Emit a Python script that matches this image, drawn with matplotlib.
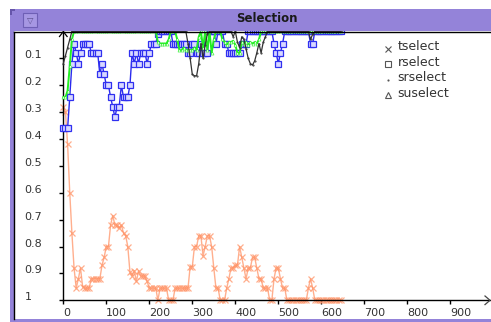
import matplotlib
matplotlib.use("Agg")
import matplotlib.pyplot as plt
from matplotlib.patches import Rectangle
from matplotlib.lines import Line2D

# ---------------- data ----------------
steps = list(range(0, 650, 5))

tselect = [
    0.28, 0.30, 0.42, 0.60, 0.75, 0.88, 0.955, 0.92, 0.88, 0.95,
    0.955, 0.955, 0.955, 0.92, 0.92, 0.92, 0.92, 0.92, 0.87, 0.84,
    0.80, 0.80, 0.72, 0.685, 0.72, 0.72, 0.73, 0.72, 0.75, 0.76,
    0.80, 0.895, 0.91, 0.89, 0.93, 0.89, 0.91, 0.91, 0.91, 0.93,
    0.955, 0.955, 0.955, 0.955, 1.0, 0.955, 0.955, 0.955, 0.955, 1.0,
    1.0, 1.0, 0.955, 0.955, 0.955, 0.955, 0.955, 0.955, 0.955, 0.875,
    0.875, 0.80, 0.80, 0.76, 0.76, 0.835, 0.80, 0.76, 0.76, 0.80,
    0.88, 0.955, 0.955, 1.0, 1.0, 1.0, 0.955, 0.92, 0.88, 0.88,
    0.87, 0.87, 0.80, 0.84, 0.88, 0.92, 0.88, 0.88, 0.84, 0.84,
    0.88, 0.92, 0.92, 0.955, 0.955, 0.955, 1.0, 1.0, 0.92, 0.88,
    0.88, 0.92, 0.955, 0.955, 1.0, 1.0, 1.0, 1.0, 1.0, 1.0,
    1.0, 1.0, 1.0, 1.0, 0.955, 0.92, 0.955, 1.0, 1.0, 1.0,
    1.0, 1.0, 1.0, 1.0, 1.0, 1.0, 1.0, 1.0, 1.0, 1.0,
]

rselect = [
    0.36, 0.36, 0.36, 0.245, 0.12, 0.045, 0.08, 0.12, 0.08, 0.045,
    0.045, 0.045, 0.045, 0.08, 0.08, 0.08, 0.08, 0.16, 0.12, 0.16,
    0.20, 0.20, 0.245, 0.28, 0.32, 0.28, 0.28, 0.20, 0.245, 0.245,
    0.245, 0.20, 0.08, 0.12, 0.08, 0.12, 0.08, 0.08, 0.08, 0.12,
    0.08, 0.045, 0.045, 0.045, 0.01, 0.0, 0.0, 0.0, 0.0, 0.0,
    0.0, 0.045, 0.045, 0.045, 0.045, 0.045, 0.045, 0.045, 0.08, 0.08,
    0.045, 0.045, 0.08, 0.08, 0.045, 0.08, 0.08, 0.08, 0.0, 0.0,
    0.0, 0.045, 0.0, 0.0, 0.0, 0.045, 0.045, 0.08, 0.08, 0.08,
    0.08, 0.08, 0.08, 0.045, 0.045, 0.045, 0.0, 0.0, 0.0, 0.0,
    0.0, 0.0, 0.0, 0.0, 0.0, 0.0, 0.0, 0.0, 0.045, 0.08,
    0.12, 0.08, 0.045, 0.0, 0.0, 0.0, 0.0, 0.0, 0.0, 0.0,
    0.0, 0.0, 0.0, 0.0, 0.0, 0.045, 0.045, 0.0, 0.0, 0.0,
    0.0, 0.0, 0.0, 0.0, 0.0, 0.0, 0.0, 0.0, 0.0, 0.0,
]

srselect = [
    0.12, 0.09, 0.06, 0.03, 0.0, 0.0, 0.0, 0.0, 0.0, 0.0,
    0.0, 0.0, 0.0, 0.0, 0.0, 0.0, 0.0, 0.0, 0.0, 0.0,
    0.0, 0.0, 0.0, 0.0, 0.0, 0.0, 0.0, 0.0, 0.0, 0.0,
    0.0, 0.0, 0.0, 0.0, 0.0, 0.0, 0.0, 0.0, 0.0, 0.0,
    0.0, 0.0, 0.0, 0.0, 0.0, 0.0, 0.0, 0.0, 0.0, 0.0,
    0.0, 0.0, 0.0, 0.0, 0.0, 0.0, 0.0, 0.0, 0.045, 0.10,
    0.16, 0.165, 0.165, 0.12, 0.045, 0.10, 0.05, 0.01, 0.0, 0.0,
    0.0, 0.0, 0.0, 0.0, 0.0, 0.0, 0.0, 0.0, 0.0, 0.02,
    0.0, 0.04, 0.06, 0.02, 0.03, 0.065, 0.10, 0.12, 0.125, 0.11,
    0.08, 0.045, 0.08, 0.04, 0.02, 0.0, 0.0, 0.0, 0.0, 0.0,
    0.0, 0.0, 0.0, 0.0, 0.0, 0.0, 0.0, 0.0, 0.0, 0.0,
    0.0, 0.0, 0.0, 0.0, 0.0, 0.03, 0.01, 0.0, 0.0, 0.0,
    0.0, 0.0, 0.0, 0.0, 0.0, 0.0, 0.0, 0.0, 0.0, 0.0,
]

suselect = [
    0.245, 0.245, 0.22, 0.13, 0.03, 0.0, 0.0, 0.0, 0.0, 0.0,
    0.0, 0.0, 0.0, 0.0, 0.0, 0.0, 0.0, 0.0, 0.0, 0.0,
    0.0, 0.0, 0.0, 0.0, 0.0, 0.0, 0.0, 0.0, 0.0, 0.0,
    0.0, 0.0, 0.0, 0.0, 0.0, 0.0, 0.0, 0.0, 0.0, 0.0,
    0.0, 0.0, 0.0, 0.0, 0.04, 0.045, 0.045, 0.045, 0.045, 0.03,
    0.0, 0.0, 0.0, 0.03, 0.07, 0.07, 0.06, 0.07, 0.07, 0.07,
    0.07, 0.06, 0.07, 0.02, 0.0, 0.06, 0.0, 0.07, 0.0, 0.08,
    0.03, 0.0, 0.0, 0.0, 0.03, 0.04, 0.05, 0.04, 0.04, 0.035,
    0.05, 0.08, 0.08, 0.04, 0.045, 0.04, 0.05, 0.04, 0.045, 0.04,
    0.045, 0.03, 0.0, 0.0, 0.0, 0.0, 0.0, 0.0, 0.0, 0.0,
    0.0, 0.0, 0.0, 0.0, 0.0, 0.0, 0.0, 0.0, 0.0, 0.0,
    0.0, 0.0, 0.0, 0.0, 0.0, 0.0, 0.0, 0.0, 0.0, 0.0,
    0.0, 0.0, 0.0, 0.0, 0.0, 0.0, 0.0, 0.0, 0.0, 0.0,
]

y_ticks = [0.1, 0.2, 0.3, 0.4, 0.5, 0.6, 0.7, 0.8, 0.9, 1.0]
y_tick_labels = ["0.1", "0.2", "0.3", "0.4", "0.5", "0.6", "0.7", "0.8", "0.9", "1"]
x_ticks = [0, 100, 200, 300, 400, 500, 600, 700, 800, 900]
x_tick_labels = ["0", "100", "200", "300", "400", "500", "600", "700", "800", "900"]
legend_names = ["tselect", "rselect", "srselect", "suselect"]
title = "Selection"

# ---------------- figure ----------------
W, H = 491, 322
fig = plt.figure(figsize=(W / 100, H / 100), dpi=100, facecolor="white")


def fx(px):
    return px / W


def fy(py):
    return 1 - py / H


purple = "#9483D9"
dark_purple = "#6655AA"

# window chrome
fig.patches.append(Rectangle((fx(10), fy(31)), fx(481), 22 / H, transform=fig.transFigure,
                             facecolor=purple, edgecolor="none", zorder=0))
fig.patches.append(Rectangle((fx(10), fy(322)), fx(3.5), 291 / H, transform=fig.transFigure,
                             facecolor=purple, edgecolor="none", zorder=0))
fig.patches.append(Rectangle((fx(10), fy(322)), fx(481), 3 / H, transform=fig.transFigure,
                             facecolor=purple, edgecolor="none", zorder=0))
fig.patches.append(Rectangle((fx(9.5), fy(15)), fx(2.5), 6 / H, transform=fig.transFigure,
                             facecolor=dark_purple, edgecolor="none", zorder=1))
fig.patches.append(Rectangle((fx(9.5), fy(11)), fx(5), 2 / H, transform=fig.transFigure,
                             facecolor=dark_purple, edgecolor="none", zorder=1))
fig.patches.append(Rectangle((fx(22.5), fy(27)), fx(14.5), 14.5 / H, transform=fig.transFigure,
                             facecolor="#A697E3", edgecolor="#6E5FB5", lw=0.8, zorder=1))
fig.text(fx(29.8), fy(19.8), "\u25bd", ha="center", va="center", fontsize=6,
         color="#5A4E8C", family="DejaVu Sans")
fig.text(fx(267), fy(18.5), title, ha="center", va="center", fontsize=8.5,
         fontweight="bold", color="#1a1a1a", family="DejaVu Sans")
fig.lines.append(Line2D([fx(13.5), fx(491)], [fy(31.5), fy(31.5)], transform=fig.transFigure,
                        color="black", lw=1.0))
fig.lines.append(Line2D([fx(13.5), fx(13.5)], [fy(31.5), fy(319)], transform=fig.transFigure,
                        color="black", lw=1.0))

# plot axes
x0_px, x1_px = 63.3, 491.0
y0_px, y1_px = 31.4, 300.3
ax = fig.add_axes([fx(x0_px), fy(y1_px), (x1_px - x0_px) / W, (y1_px - y0_px) / H])
ax.set_facecolor("none")
ax.set_xlim(0, (x1_px - x0_px) / 0.43)
ax.set_ylim(1.0, 0.0)

ax.plot(steps, tselect, color="#FF9468", lw=1.0, marker="x", ms=4.5, mew=0.9,
        alpha=0.75, clip_on=False, zorder=2)
ax.plot(steps, rselect, color="#2B2BEE", lw=1.0, marker="s", ms=4.0, mew=0.9,
        mfc="#D8D8FF", mec="#3030F0", clip_on=False, zorder=3)
ax.plot(steps, suselect, color="#22EE22", lw=1.4, marker="^", ms=2.2, mew=0.4,
        mfc="white", mec="#22EE22", clip_on=False, zorder=4)
ax.plot(steps, srselect, color="#333333", lw=0.9, marker=".", ms=1.0,
        clip_on=False, zorder=5)

for s in ["top", "right"]:
    ax.spines[s].set_visible(False)
for s in ["left", "bottom"]:
    ax.spines[s].set_color("black")
    ax.spines[s].set_linewidth(1.0)

ax.set_yticks(y_ticks)
ax.set_yticklabels(y_tick_labels)
ax.set_xticks(x_ticks)
ax.set_xticklabels(x_tick_labels)
ax.tick_params(axis="y", direction="out", length=3, width=1, color="black",
               labelsize=8, labelcolor="#333333", pad=25)
ax.tick_params(axis="x", direction="out", length=3, width=1, color="black",
               labelsize=8, labelcolor="#333333", pad=2.5)
for lab in ax.get_yticklabels():
    lab.set_horizontalalignment("left")
    lab.set_verticalalignment("baseline")
for lab in ax.get_xticklabels():
    lab.set_horizontalalignment("left")

# axis arrows
fig.lines.append(Line2D([fx(59.5), fx(63.3), fx(67.1)], [fy(36.5), fy(31.6), fy(36.5)],
                        transform=fig.transFigure, color="black", lw=0.9))
fig.lines.append(Line2D([fx(485), fx(490), fx(485)], [fy(296), fy(300.3), fy(304.6)],
                        transform=fig.transFigure, color="#444444", lw=0.9))

# legend
legend_markers = ["x", "s", ".", "^"]
legend_rows = [46.5, 62, 77.5, 93]
for name, mk, ry in zip(legend_names, legend_markers, legend_rows):
    fig.lines.append(Line2D([fx(388)], [fy(ry + 2)], transform=fig.transFigure,
                            marker=mk, ms=4 if mk != "." else 1.5, mew=0.8,
                            mfc="none" if mk != "." else "#555555",
                            mec="#555555", color="#555555", lw=0))
    fig.text(fx(397.5), fy(ry), name, ha="left", va="center", fontsize=9,
             color="#333333", family="DejaVu Sans")

fig.savefig("out.png", dpi=100)
